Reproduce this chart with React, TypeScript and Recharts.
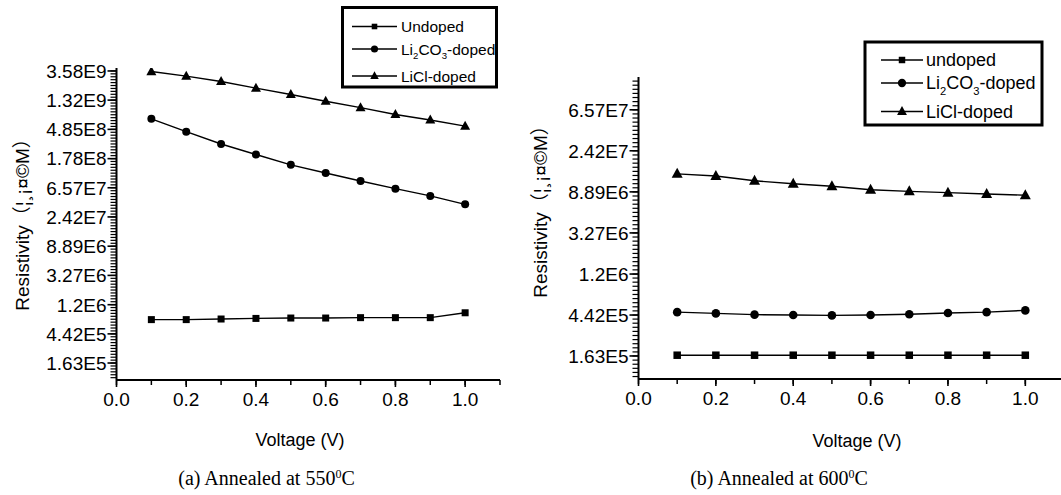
import React from 'react'
import { LineChart, Line, XAxis, YAxis } from 'recharts'

// shared x values (Voltage, V)
const voltage = [0.1, 0.2, 0.3, 0.4, 0.5, 0.6, 0.7, 0.8, 0.9, 1.0]
const xTicks = [0, 0.1, 0.2, 0.3, 0.4, 0.5, 0.6, 0.7, 0.8, 0.9, 1.0, 1.1]

// (a) annealed at 550°C
const undopedA = [7.2e5, 7.2e5, 7.35e5, 7.5e5, 7.6e5, 7.6e5, 7.7e5, 7.7e5, 7.7e5, 9.1e5]
const li2co3A = [6.95e8, 4.48e8, 2.94e8, 2.05e8, 1.44e8, 1.09e8, 8.27e7, 6.37e7, 4.97e7, 3.72e7]
const liclA = [3.51e9, 3.0e9, 2.5e9, 1.99e9, 1.6e9, 1.27e9, 1.02e9, 8.08e8, 6.68e8, 5.41e8]

// (b) annealed at 600°C
const undopedB = [1.66e5, 1.66e5, 1.66e5, 1.66e5, 1.66e5, 1.66e5, 1.66e5, 1.66e5, 1.66e5, 1.66e5]
const li2co3B = [4.74e5, 4.6e5, 4.46e5, 4.42e5, 4.38e5, 4.42e5, 4.5e5, 4.65e5, 4.74e5, 4.95e5]
const liclB = [1.38e7, 1.31e7, 1.165e7, 1.085e7, 1.02e7, 9.35e6, 9.0e6, 8.72e6, 8.45e6, 8.2e6]

const yLabelsA = ['1.63E5', '4.42E5', '1.2E6', '3.27E6', '8.89E6', '2.42E7', '6.57E7', '1.78E8', '4.85E8', '1.32E9', '3.58E9']
const yLabelsB = ['1.63E5', '4.42E5', '1.2E6', '3.27E6', '8.89E6', '2.42E7', '6.57E7']

const yTitle = 'Resistivity（¦¸¡¤©M）'
const xTitle = 'Voltage (V)'

const SANS = '"Liberation Sans", Arial, "Noto Sans CJK SC", sans-serif'
const SERIF = '"Liberation Serif", "Times New Roman", serif'

const rows = (u: number[], c: number[], l: number[]) =>
  voltage.map((v, i) => ({ v, undoped: u[i], li2co3: c[i], licl: l[i] }))

// major ticks from the labels, minor ticks every 0.1 in ln units
function buildYTicks(labels: string[], lo: number, hi: number) {
  const majors = labels.map(Number)
  const minors: number[] = []
  for (let n = Math.floor(lo); n <= Math.ceil(hi); n++) {
    for (let k = 1; k < 10; k++) {
      const l = n + k / 10
      if (l > lo && l < hi) minors.push(Math.exp(l))
    }
  }
  return [...majors, ...minors].sort((a, b) => a - b)
}

// recharts draws the short tick line; majors get a longer one plus the label
const makeYTick = (labels: string[], fontSize: number) => {
  const majors = labels.map(Number)
  return (p: any) => {
    const x = Number(p.x)
    const y = Number(p.y)
    const i = majors.indexOf(p.payload.value)
    if (i < 0) return <g />
    return (
      <g>
        <line x1={x - 3} x2={x + 6} y1={y} y2={y} stroke="#000" strokeWidth={1.6} />
        <text x={x - 4} y={y} dy="0.36em" textAnchor="end" fontSize={fontSize} fontFamily={SANS} fill="#000">
          {labels[i]}
        </text>
      </g>
    )
  }
}

const makeXTick = (fontSize: number) => (p: any) => {
  const x = Number(p.x)
  const y = Number(p.y)
  const v = p.payload.value
  const major = Math.round(v * 10) % 2 === 0 && v < 1.05
  if (!major) return <g />
  return (
    <g>
      <line x1={x} x2={x} y1={y - 5} y2={y + 2} stroke="#000" strokeWidth={1.6} />
      <text x={x} y={y + 21} textAnchor="middle" fontSize={fontSize} fontFamily={SANS} fill="#000">
        {v.toFixed(1)}
      </text>
    </g>
  )
}

const squareDot = (s: number) => (p: any) => (
  <rect key={`s${p.index}`} x={p.cx - s / 2} y={p.cy - s / 2} width={s} height={s} fill="#000" />
)
const circleDot = (r: number) => (p: any) => <circle key={`c${p.index}`} cx={p.cx} cy={p.cy} r={r} fill="#000" />
const triPoints = (cx: number, cy: number, w: number, h: number) =>
  `${cx},${cy - h * 0.6} ${cx - w / 2},${cy + h * 0.4} ${cx + w / 2},${cy + h * 0.4}`
const triDot = (w: number, h: number) => (p: any) => (
  <polygon key={`t${p.index}`} points={triPoints(p.cx, p.cy, w, h)} fill="#000" />
)

function Panel(props: any) {
  const { data, yLabels, lnLo, lnHi } = props
  const yTicks = buildYTicks(yLabels, lnLo, lnHi)
  return (
    <LineChart
      width={props.width}
      height={495}
      data={data}
      margin={{ top: props.marginTop, right: props.marginRight, left: 0, bottom: props.marginBottom }}
    >
      <XAxis
        dataKey="v"
        type="number"
        domain={[0, 1.1]}
        ticks={xTicks}
        interval={0}
        height={30}
        tickSize={5}
        tickMargin={0}
        tickLine={{ stroke: '#000', strokeWidth: 1.5 }}
        axisLine={{ stroke: '#000', strokeWidth: 2 }}
        tick={makeXTick(19)}
        allowDataOverflow
      />
      <YAxis
        type="number"
        scale="log"
        domain={[Math.exp(lnLo), Math.exp(lnHi)]}
        allowDataOverflow
        ticks={yTicks}
        interval={0}
        width={props.yAxisWidth}
        tickSize={6}
        tickMargin={0}
        tickLine={{ stroke: '#000', strokeWidth: 1.2 }}
        axisLine={{ stroke: '#000', strokeWidth: 2 }}
        tick={makeYTick(yLabels, 19)}
      />
      <Line dataKey="undoped" stroke="#000" strokeWidth={1.4} dot={squareDot(props.sq)} activeDot={false} isAnimationActive={false} />
      <Line dataKey="li2co3" stroke="#000" strokeWidth={1.4} dot={circleDot(props.cr)} activeDot={false} isAnimationActive={false} />
      <Line dataKey="licl" stroke="#000" strokeWidth={1.4} dot={triDot(props.tw, props.th)} activeDot={false} isAnimationActive={false} />
    </LineChart>
  )
}

// legend drawn as plain svg over the charts
function LegendBox(p: {
  box: [number, number, number, number]
  rowsY: number[]
  lineX: [number, number]
  textX: number
  fontSize: number
  names: string[]
}) {
  const [x0, y0, x1, y1] = p.box
  const mx = (p.lineX[0] + p.lineX[1]) / 2
  const fs = p.fontSize
  const markers = [
    (y: number) => <rect x={mx - fs * 0.18} y={y - fs * 0.18} width={fs * 0.36} height={fs * 0.36} fill="#000" />,
    (y: number) => <circle cx={mx} cy={y} r={fs * 0.23} fill="#000" />,
    (y: number) => <polygon points={triPoints(mx, y, fs * 0.55, fs * 0.5)} fill="#000" />,
  ]
  return (
    <g>
      <rect x={x0} y={y0} width={x1 - x0} height={y1 - y0} fill="#fff" stroke="#000" strokeWidth={3} />
      {p.rowsY.map((y, i) => (
        <g key={i}>
          <line x1={p.lineX[0]} x2={p.lineX[1]} y1={y} y2={y} stroke="#000" strokeWidth={1.4} />
          {markers[i](y)}
          <text x={p.textX} y={y} dy="0.36em" fontSize={fs} fontFamily={SANS} fill="#000">
            {i === 1 ? (
              <>
                Li<tspan fontSize={fs * 0.62} dy={fs * 0.3}>2</tspan>
                <tspan dy={-fs * 0.3}>CO</tspan>
                <tspan fontSize={fs * 0.62} dy={fs * 0.3}>3</tspan>
                <tspan dy={-fs * 0.3}>-doped</tspan>
              </>
            ) : (
              p.names[i]
            )}
          </text>
        </g>
      ))}
    </g>
  )
}

const YTitle = ({ x, y }: { x: number; y: number }) => (
  <text x={x} y={y} dy="0.36em" textAnchor="middle" fontSize={19} fontFamily={SANS} fill="#000" transform={`rotate(-90 ${x} ${y})`}>
    {yTitle}
  </text>
)
const XTitle = ({ x, y }: { x: number; y: number }) => (
  <text x={x} y={y} dy="0.36em" textAnchor="middle" fontSize={18} fontFamily={SANS} fill="#000">
    {xTitle}
  </text>
)

export default function App() {
  return (
    <div style={{ position: 'absolute', left: 0, top: 0, width: 1061, height: 495, overflow: 'hidden', background: '#fff' }}>
      <div style={{ position: 'absolute', left: 0, top: 0 }}>
        <Panel
          data={rows(undopedA, li2co3A, liclA)}
          yLabels={yLabelsA}
          lnLo={11.42}
          lnHi={22.1}
          width={520}
          yAxisWidth={116.5}
          marginTop={68}
          marginBottom={85}
          marginRight={20}
          sq={7}
          cr={4}
          tw={10}
          th={9}
        />
      </div>
      <div style={{ position: 'absolute', left: 530, top: 0 }}>
        <Panel
          data={rows(undopedB, li2co3B, liclB)}
          yLabels={yLabelsB}
          lnLo={11.44}
          lnHi={18.8}
          width={534}
          yAxisWidth={108.5}
          marginTop={77}
          marginBottom={86}
          marginRight={0}
          sq={7.5}
          cr={4.3}
          tw={11}
          th={10}
        />
      </div>
      <svg style={{ position: 'absolute', left: 0, top: 0 }} width={1061} height={495}>
        <YTitle x={22} y={220} />
        <YTitle x={540} y={207} />
        <XTitle x={300} y={440} />
        <XTitle x={857} y={441} />
        <LegendBox
          box={[342.5, 7.5, 496.5, 87]}
          rowsY={[26.5, 49, 76]}
          lineX={[352, 397]}
          textX={401}
          fontSize={15.5}
          names={['Undoped', 'Li2CO3-doped', 'LiCl-doped']}
        />
        <LegendBox
          box={[865, 42, 1042, 125]}
          rowsY={[60, 83, 111.5]}
          lineX={[881, 923]}
          textX={926}
          fontSize={18}
          names={['undoped', 'Li2CO3-doped', 'LiCl-doped']}
        />
        <text x={266.5} y={478} dy="0.36em" textAnchor="middle" fontSize={20} fontFamily={SERIF} fill="#000">
          (a) Annealed at 550<tspan fontSize={12} dy={-7}>0</tspan>
          <tspan dy={7}>C</tspan>
        </text>
        <text x={779} y={478} dy="0.36em" textAnchor="middle" fontSize={20} fontFamily={SERIF} fill="#000">
          (b) Annealed at 600<tspan fontSize={12} dy={-7}>0</tspan>
          <tspan dy={7}>C</tspan>
        </text>
      </svg>
    </div>
  )
}
